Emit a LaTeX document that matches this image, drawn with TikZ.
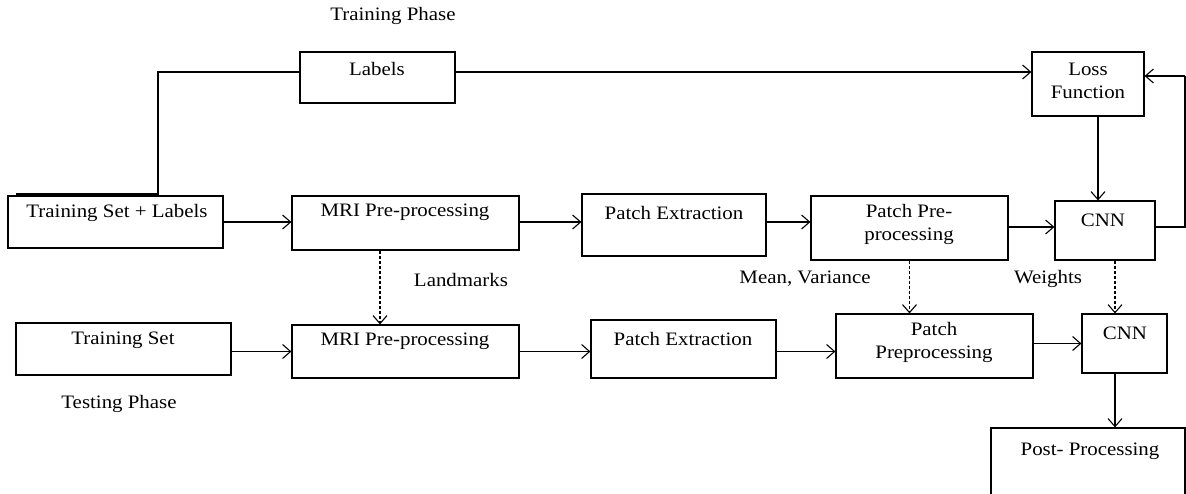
\documentclass[tikz,border=0pt]{standalone}
\usepackage{fontspec}
\setmainfont{Liberation Serif}[FakeStretch=1.1]
\usetikzlibrary{arrows.meta}
\begin{document}
\begin{tikzpicture}[x=1pt,y=-1pt,
  box/.style={draw, line width=1.2pt, inner sep=0pt},
  txt/.style={inner sep=0pt, align=center, font=\fontsize{19}{22.5}\selectfont},
  conn/.style={line width=1.1pt},
  arr/.style={conn, -{Straight Barb[length=8pt,width=14pt,line width=1.1pt]}},
  darr/.style={arr, dash pattern=on 3pt off 2pt}]
\useasboundingbox (0,0) rectangle (1186,493);
% boxes
\node[box, minimum width=155pt, minimum height=51pt] (labels) at (377.5,77.5) {};
\node[box, minimum width=215pt, minimum height=52pt] (tsl) at (115.5,222) {};
\node[box, minimum width=227pt, minimum height=54pt] (mri1) at (405.5,223) {};
\node[box, minimum width=184pt, minimum height=62pt] (pe1) at (674,225) {};
\node[box, minimum width=197pt, minimum height=64pt] (pp1) at (909.5,228) {};
\node[box, minimum width=100pt, minimum height=59pt] (cnn1) at (1105,230.5) {};
\node[box, minimum width=112pt, minimum height=64pt] (loss) at (1088,84) {};
\node[box, minimum width=215pt, minimum height=52pt] (ts) at (123.5,349) {};
\node[box, minimum width=227pt, minimum height=53pt] (mri2) at (405.5,351.5) {};
\node[box, minimum width=185pt, minimum height=58pt] (pe2) at (683.5,349) {};
\node[box, minimum width=197pt, minimum height=64pt] (pp2) at (934.5,346) {};
\node[box, minimum width=85pt, minimum height=59pt] (cnn2) at (1124.5,343.5) {};
\node[box, minimum width=194pt, minimum height=72pt] (post) at (1088,464) {};
% texts
\node[txt] (tTP) at (393,16) {Training Phase};
\node[txt] (tLab) at (377,69) {Labels};
\node[txt] (tTSL) at (117,213) {Training Set + Labels};
\node[txt] (tMRI1) at (405,212) {MRI Pre-processing};
\node[txt] (tPE1) at (674,213) {Patch Extraction};
\node[txt] (tPP1) at (909,224.5) {Patch Pre-\\processing};
\node[txt] (tCNN1) at (1103,220) {CNN};
\node[txt] (tLoss) at (1088,81) {Loss\\Function};
\node[txt] (tLm) at (461,280) {Landmarks};
\node[txt] (tMV) at (805,279) {Mean, Variance};
\node[txt] (tW) at (1048,279) {Weights};
\node[txt] (tTS) at (123,340) {Training Set};
\node[txt] (tMRI2) at (405,341) {MRI Pre-processing};
\node[txt] (tPE2) at (683,339) {Patch Extraction};
\node[txt] (tPP2) at (934,342.5) {Patch\\Preprocessing};
\node[txt] (tCNN2) at (1125,333) {CNN};
\node[txt] (tTest) at (119,404) {Testing Phase};
\node[txt] (tPost) at (1090,451) {Post- Processing};
% helper coordinates
\coordinate (lb) at (158,72);
\coordinate (lc) at (158,194);
\coordinate (ld) at (16,194);
\coordinate (fb1) at (1185,227);
\coordinate (fb2) at (1185,76);
\coordinate (lx) at (1098,0);
\coordinate (dx1) at (380,0);
\coordinate (dx3) at (1115,0);
% connectors
\draw[conn] (labels.west |- lb) -- (lb) -- (lc) -- (ld);
\draw[arr] (labels.east |- lb) -- (loss.west |- lb);
\draw[arr] (loss.south -| lx) -- (cnn1.north -| lx);
\draw[conn] (cnn1.east |- fb1) -- (fb1) -- (fb2);
\draw[arr] (fb2) -- (loss.east |- fb2);
\draw[arr] (tsl.east) -- (mri1.west |- tsl.east);
\draw[arr] (mri1.east |- tsl.east) -- (pe1.west |- tsl.east);
\draw[arr] (pe1.east |- tsl.east) -- (pp1.west |- tsl.east);
\draw[arr] (pp1.east |- fb1) -- (cnn1.west |- fb1);
\draw[darr] (mri1.south -| dx1) -- (mri2.north -| dx1);
\draw[darr] (pp1.south) -- (pp2.north -| pp1.south);
\draw[darr] (cnn1.south -| dx3) -- (cnn2.north -| dx3);
\draw[arr] (ts.east |- mri2.center) -- (mri2.west);
\draw[arr] (mri2.east) -- (pe2.west |- mri2.east);
\draw[arr] (pe2.east |- mri2.east) -- (pp2.west |- mri2.east);
\draw[arr] (pp2.east |- cnn2.center) -- (cnn2.west);
\draw[arr] (cnn2.south -| dx3) -- (post.north -| dx3);
\end{tikzpicture}
\end{document}
